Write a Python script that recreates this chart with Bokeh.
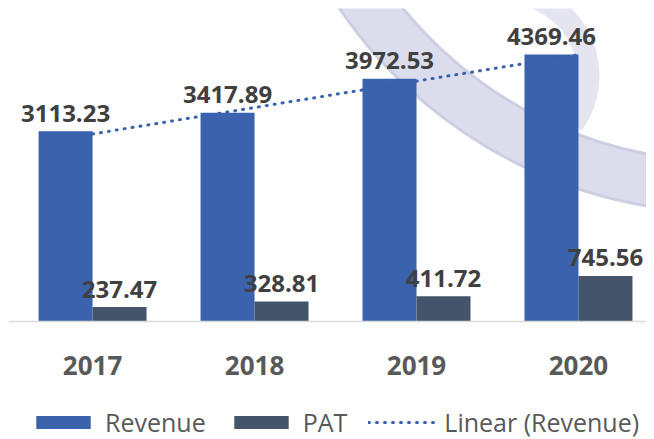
import numpy as np
from bokeh.plotting import figure
from bokeh.models import Range1d, FixedTicker, Legend, LegendItem, ColumnDataSource
from bokeh.core.properties import value
from bokeh.embed import file_html
from bokeh.resources import INLINE

years = ["2017", "2018", "2019", "2020"]
revenue = [3113.23, 3417.89, 3972.53, 4369.46]
pat = [237.47, 328.81, 411.72, 745.56]

REV_COLOR = "#3A62AD"
PAT_COLOR = "#44546A"
FONT = "Open Sans"

xpos = np.arange(1, len(years) + 1)
slope, intercept = np.polyfit(xpos, revenue, 1)
trend = slope * xpos + intercept

src = ColumnDataSource(dict(
    x=xpos, rev=revenue, pat=pat,
    rev_x=xpos - 1/6, pat_x=xpos + 1/6,
    rev_lbl=[f"{v:.2f}" for v in revenue],
    pat_lbl=[f"{v:.2f}" for v in pat],
))

p = figure(frame_width=638, frame_height=431, output_backend="svg", toolbar_location=None,
           x_range=Range1d(0.481, 4.42), y_range=Range1d(-1931, 5123),
           min_border_left=8, min_border_right=0, min_border_top=8, min_border_bottom=0)
p.outline_line_color = None
p.xgrid.visible = False
p.ygrid.visible = False
p.yaxis.visible = False

# faint background emblem (decoration, placed in screen pixels -> data units)
def ex(px):
    return 1 + (px - 92) / 162.0

def ey(py):
    return (321 - py) / 0.0611

p.annular_wedge(x=[ex(725)], y=[ey(-255)], inner_radius=416, outer_radius=467,
                inner_radius_units="screen", outer_radius_units="screen",
                start_angle=np.pi * 0.95, end_angle=np.pi * 1.6,
                fill_color="#DCDDEC", line_color="#CDCEE2", line_width=3)
p.annular_wedge(x=[ex(505)], y=[ey(75)], inner_radius=72, outer_radius=94,
                inner_radius_units="screen", outer_radius_units="screen",
                start_angle=-np.pi * 0.2, end_angle=np.pi * 0.55,
                fill_color="#E4E5F0", line_color=None)

r_rev = p.vbar(x="rev_x", top="rev", width=1/3, source=src, fill_color=REV_COLOR, line_color=None)
r_pat = p.vbar(x="pat_x", top="pat", width=1/3, source=src, fill_color=PAT_COLOR, line_color=None)
r_tr = p.line(xpos, trend, line_color=REV_COLOR, line_width=3, line_dash="1 7", line_cap="round")

p.text(x="rev_x", y="rev", text="rev_lbl", source=src, text_align="center",
       text_baseline="alphabetic", y_offset=-18, text_font=value(FONT),
       text_font_size="24px", text_font_style="bold", text_color="#404040")
p.text(x="pat_x", y="pat", text="pat_lbl", source=src, text_align="center",
       text_baseline="alphabetic", y_offset=-18, text_font=value(FONT),
       text_font_size="24px", text_font_style="bold", text_color="#404040")

ax = p.xaxis[0]
ax.fixed_location = 0
ax.ticker = FixedTicker(ticks=list(xpos))
ax.major_label_overrides = {int(i): y for i, y in zip(xpos, years)}
ax.major_tick_line_color = None
ax.minor_tick_line_color = None
ax.axis_line_color = "#D9D9D9"
ax.axis_line_width = 1.5
ax.major_label_standoff = 28
ax.major_label_text_font = FONT
ax.major_label_text_font_size = "26px"
ax.major_label_text_font_style = "bold"
ax.major_label_text_color = "#595959"

legend = Legend(items=[
    LegendItem(label="Revenue", renderers=[r_rev]),
    LegendItem(label="PAT", renderers=[r_pat]),
    LegendItem(label="Linear (Revenue)", renderers=[r_tr]),
], orientation="horizontal", location=(21, 0),
    glyph_width=68, glyph_height=16, label_standoff=8, spacing=21,
    label_text_font=FONT, label_text_font_size="25px", label_text_color="#595959",
    border_line_color=None, background_fill_alpha=0, padding=0, margin=0)
p.add_layout(legend, "center")

open("out.html", "w").write(file_html(p, INLINE))
